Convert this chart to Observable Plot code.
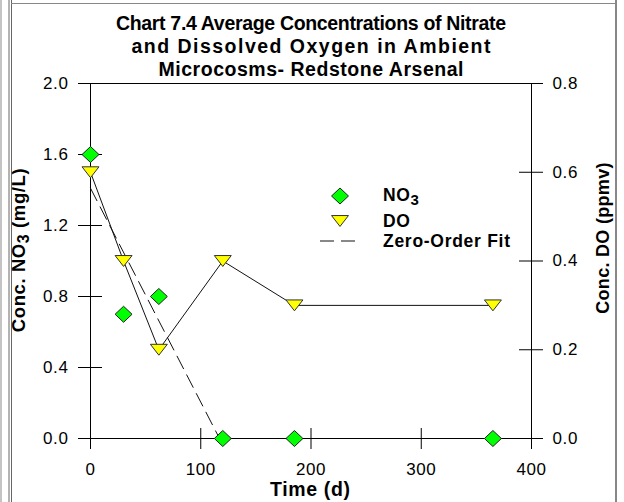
<!DOCTYPE html>
<html>
<head>
<meta charset="utf-8">
<script src="https://cdn.jsdelivr.net/npm/d3@7"></script>
<script src="https://cdn.jsdelivr.net/npm/@observablehq/plot@0.6"></script>
<style>
  html, body { margin: 0; padding: 0; background: #fff; }
  #chart { width: 624px; height: 502px; }
</style>
</head>
<body>
<div id="chart"></div>
<script>
// ---- Data ----
const timeDays = [0, 30, 62, 120, 185, 365];
const no3Conc = [1.6, 0.7, 0.8, 0, 0, 0];          // mg/L, left axis
const doConc = [0.6, 0.4, 0.2, 0.4, 0.3, 0.3];     // ppmv, right axis
const fitTime = [0, 117];                          // zero-order fit
const fitNO3 = [1.41, 0];
const xTicks = [0, 100, 200, 300, 400];
const yLeftTicks = [0, 0.4, 0.8, 1.2, 1.6, 2.0];
const yRightTicks = [0, 0.2, 0.4, 0.6, 0.8];
const titleLines = [
  "Chart 7.4 Average Concentrations of Nitrate",
  "and Dissolved Oxygen in Ambient",
  "Microcosms- Redstone Arsenal"
];
const xLabel = "Time (d)";
const legendLabels = ["NO", "DO", "Zero-Order Fit"];

// right axis (0..0.8) shares the left axis frame (0..2.0)
const ratio = 2.0 / 0.8;

const rows = timeDays.map((t, i) => ({t, no3: no3Conc[i], dO: doConc[i]}));
const fitRows = fitTime.map((t, i) => ({t, v: fitNO3[i]}));

// ---- Layout ----
const W = 624, H = 502;
const mL = 90, mR = 93, mT = 83, mB = 64;
const pw = W - mL - mR, ph = H - mT - mB;
const FONT = "'Liberation Sans', Arial, Helvetica, sans-serif";

// custom symbols
const diamondSym = {
  draw(ctx, size) {
    const r = Math.sqrt(size / Math.PI);
    ctx.moveTo(0, -r); ctx.lineTo(r * 1.06, 0); ctx.lineTo(0, r); ctx.lineTo(-r * 1.06, 0); ctx.closePath();
  }
};
const triDownSym = {
  draw(ctx, size) {
    const r = Math.sqrt(size / Math.PI);
    const w = r * 1.06, h = r * 0.68;
    ctx.moveTo(-w, -h); ctx.lineTo(w, -h); ctx.lineTo(0, h); ctx.closePath();
  }
};

const tickStyle = {fontSize: 17, fill: "#000"};

const svg = Plot.plot({
  width: W, height: H,
  marginLeft: mL, marginRight: mR, marginTop: mT, marginBottom: mB,
  style: {fontFamily: FONT, background: "#fff", color: "#000", fontSize: "17px"},
  x: {domain: [0, 400]},
  y: {domain: [0, 2]},
  marks: [
    Plot.frame({stroke: "#000", strokeWidth: 1}),
    // crossing tick marks
    Plot.tickY(yLeftTicks, {y: d => d, insetLeft: -12, insetRight: pw - 12, stroke: "#000"}),
    Plot.tickY(yRightTicks, {y: d => d * ratio, insetLeft: pw - 12, insetRight: -12, stroke: "#000"}),
    Plot.tickX(xTicks, {x: d => d, insetTop: ph - 10, insetBottom: -11, stroke: "#000"}),
    // tick labels
    Plot.axisY(yLeftTicks, {anchor: "left", tickSize: 0, tickPadding: 22, label: null,
      tickFormat: d => d.toFixed(1), ...tickStyle}),
    Plot.axisY(yRightTicks.map(d => d * ratio), {anchor: "right", tickSize: 0, tickPadding: 21, label: null,
      tickFormat: d => (d / ratio).toFixed(1), ...tickStyle}),
    Plot.axisX(xTicks, {anchor: "bottom", tickSize: 0, tickPadding: 24, label: null,
      tickFormat: d => String(d), ...tickStyle}),
    // series
    Plot.line(rows, {x: "t", y: d => d.dO * ratio, stroke: "#111", strokeWidth: 1}),
    Plot.line(fitRows, {x: "t", y: "v", stroke: "#111", strokeWidth: 1, strokeDasharray: "14,7"}),
    Plot.dot(rows, {x: "t", y: d => d.dO * ratio, symbol: triDownSym, r: 8, fill: "#ffff00", stroke: "#333", strokeWidth: 1}),
    Plot.dot(rows, {x: "t", y: "no3", symbol: diamondSym, r: 8, fill: "#00ff00", stroke: "#222", strokeWidth: 1})
  ]
});

document.getElementById("chart").appendChild(svg);

const s = d3.select(svg);
s.selectAll('g[aria-label$="tick label"]')
  .attr("font-size", 17)
  .style("letter-spacing", "0.6px");

// ---- Decorations: border, titles, axis labels, legend ----
const deco = s.append("g").attr("class", "deco").attr("text-anchor", "start");

// page borders
deco.append("line").attr("x1", 1).attr("x2", 1).attr("y1", 0).attr("y2", H).attr("stroke", "#888").attr("stroke-width", 1);
deco.append("line").attr("x1", 9).attr("x2", 9).attr("y1", 0).attr("y2", H).attr("stroke", "#666").attr("stroke-width", 1);
deco.append("line").attr("x1", 11.5).attr("x2", 11.5).attr("y1", 0).attr("y2", H).attr("stroke", "#666").attr("stroke-width", 1);
deco.append("line").attr("x1", 616).attr("x2", 616).attr("y1", 0).attr("y2", H).attr("stroke", "#888").attr("stroke-width", 2);
deco.append("line").attr("x1", 11).attr("x2", 617).attr("y1", 3.5).attr("y2", 3.5).attr("stroke", "#888").attr("stroke-width", 1);

const boldText = (g) => g.attr("font-family", FONT).attr("font-weight", "bold").attr("fill", "#000").style("letter-spacing", "0px");

// title
const titleBase = [30, 53, 75.5];
const titleLen = [390, 359, 305];
titleLines.forEach((t, i) => {
  deco.append("text").call(boldText)
    .attr("x", 311).attr("y", titleBase[i]).attr("text-anchor", "middle")
    .attr("font-size", 19.5)
    .attr("textLength", titleLen[i]).attr("lengthAdjust", "spacing")
    .text(t);
});

// x axis label
deco.append("text").call(boldText)
  .attr("x", 310).attr("y", 496).attr("text-anchor", "middle").attr("font-size", 19.5)
  .attr("textLength", 80).attr("lengthAdjust", "spacing")
  .text(xLabel);

// left y label with subscript
const ly = deco.append("text").call(boldText)
  .attr("transform", "translate(25,250) rotate(-90)")
  .attr("text-anchor", "middle").attr("font-size", 18.5)
  .style("letter-spacing", "0.6px");
ly.append("tspan").text("Conc. NO");
ly.append("tspan").attr("dy", 4).attr("font-size", 16).text("3");
ly.append("tspan").attr("dy", -4).text(" (mg/L)");

// right y label
deco.append("text").call(boldText)
  .attr("transform", "translate(609,238) rotate(-90)")
  .attr("text-anchor", "middle").attr("font-size", 18)
  .style("letter-spacing", "0.3px")
  .text("Conc. DO (ppmv)");

// legend
const lg = deco.append("g").attr("text-anchor", "start");
const symPath = (sym, r) => {
  const p = d3.path();
  sym.draw(p, r * r * Math.PI);
  return p.toString();
};
lg.append("path").attr("d", symPath(diamondSym, 8)).attr("transform", "translate(340,196)")
  .attr("fill", "#00ff00").attr("stroke", "#222");
lg.append("path").attr("d", symPath(triDownSym, 8)).attr("transform", "translate(340,221)")
  .attr("fill", "#ffff00").attr("stroke", "#333");
lg.append("line").attr("x1", 320).attr("x2", 361).attr("y1", 241).attr("y2", 241)
  .attr("stroke", "#111").attr("stroke-dasharray", "14,7");

const t1 = lg.append("text").call(boldText).attr("text-anchor", "start").attr("x", 383).attr("y", 200.5).attr("font-size", 17.5).style("letter-spacing", "0.6px");
t1.append("tspan").text(legendLabels[0]);
t1.append("tspan").attr("dy", 4).attr("font-size", 15).text("3");
lg.append("text").call(boldText).attr("text-anchor", "start").attr("x", 383).attr("y", 226.5).attr("font-size", 17.5).style("letter-spacing", "0.6px").text(legendLabels[1]);
lg.append("text").call(boldText).attr("text-anchor", "start").attr("x", 383).attr("y", 246.5).attr("font-size", 17.5)
  .attr("textLength", 127).attr("lengthAdjust", "spacing").text(legendLabels[2]);
</script>
</body>
</html>
